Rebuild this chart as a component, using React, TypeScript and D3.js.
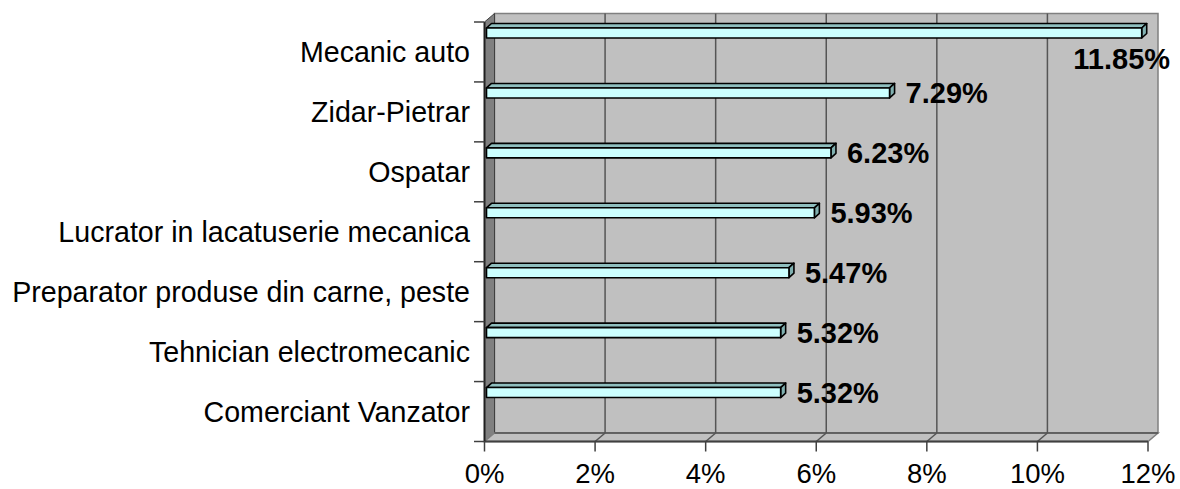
import React from "react";
import * as d3 from "d3";

const categories = [
  "Mecanic auto",
  "Zidar-Pietrar",
  "Ospatar",
  "Lucrator in lacatuserie mecanica",
  "Preparator produse din carne, peste",
  "Tehnician electromecanic",
  "Comerciant Vanzator",
];
const values = [11.85, 7.29, 6.23, 5.93, 5.47, 5.32, 5.32];
const valueTicks = [0, 2, 4, 6, 8, 10, 12];

const W = 1180;
const H = 489;
const font = "'Liberation Sans', Arial, sans-serif";

export default function App() {
  // front plane of the 3d box
  const x = d3.scaleLinear().domain([0, 12]).range([484.5, 1148]);
  const y = d3.scaleBand().domain(categories).range([22, 441.5]).padding(0);
  const dx = 10; // wall depth
  const dy = -8.5;
  const top = 22;
  const bottom = 441.5;

  // bars sit a little inside the depth
  const bdx = 5;
  const bdy = -4.5;
  const barOff = 2;
  const barH = 10;

  const pts = (p: number[][]) => p.map((d) => d.join(",")).join(" ");

  return (
    <svg width={W} height={H} style={{ position: "absolute", left: 0, top: 0 }} fontFamily={font}>
      {/* back wall */}
      <rect x={x(0) + dx} y={top + dy} width={x(12) - x(0)} height={bottom - top}
        fill="#c0c0c0" stroke="#808080" strokeWidth={1.5} />
      {/* left wall */}
      <polygon points={pts([[x(0), top], [x(0) + dx, top + dy], [x(0) + dx, bottom + dy], [x(0), bottom]])}
        fill="#808080" stroke="#404040" strokeWidth={1} />
      {/* floor */}
      <polygon points={pts([[x(0), bottom], [x(0) + dx, bottom + dy], [x(12) + dx, bottom + dy], [x(12), bottom]])}
        fill="#c0c0c0" stroke="#808080" strokeWidth={1.5} />
      {/* gridlines on wall and floor */}
      {valueTicks.slice(1, -1).map((t) => (
        <g key={"g" + t} stroke="#555" strokeWidth={1.5}>
          <line x1={x(t) + dx} x2={x(t) + dx} y1={top + dy} y2={bottom + dy} />
          <line x1={x(t) + dx} x2={x(t)} y1={bottom + dy} y2={bottom} />
        </g>
      ))}
      <line x1={x(0) + dx} x2={x(12) + dx} y1={bottom + dy} y2={bottom + dy} stroke="#555" strokeWidth={1.5} />
      {/* axes lines */}
      <line x1={x(0)} x2={x(12)} y1={bottom} y2={bottom} stroke="#404040" strokeWidth={2} />
      <line x1={x(0)} x2={x(0)} y1={top} y2={bottom} stroke="#202020" strokeWidth={2} />
      {/* value ticks + labels */}
      {valueTicks.map((t) => (
        <g key={"t" + t}>
          <line x1={x(t)} x2={x(t)} y1={bottom} y2={bottom + 10} stroke="#404040" strokeWidth={1.5} />
          <text x={x(t)} y={483} textAnchor="middle" fontSize={27.5} fill="#000">{t}%</text>
        </g>
      ))}
      {/* category ticks + labels */}
      {[...categories.map((c) => y(c) as number), bottom].map((v, i) => (
        <line key={"c" + i} x1={474} x2={x(0)} y1={v} y2={v} stroke="#404040" strokeWidth={1.5} />
      ))}
      {categories.map((c) => (
        <text key={"l" + c} x={470} y={(y(c) as number) + y.bandwidth() / 2} dy="0.35em"
          textAnchor="end" fontSize={28.6} fill="#000">{c}</text>
      ))}
      {/* bars */}
      {categories.map((c, i) => {
        const x0 = x(0) + barOff;
        const x1 = x(values[i]) + barOff;
        const y0 = (y(c) as number) + 6;
        const y1 = y0 + barH;
        return (
          <g key={"b" + c} stroke="#000" strokeWidth={1.6} strokeLinejoin="round">
            <polygon points={pts([[x0, y0], [x1, y0], [x1 + bdx, y0 + bdy], [x0 + bdx, y0 + bdy]])} fill="#8fbfbf" />
            <polygon points={pts([[x1, y0], [x1 + bdx, y0 + bdy], [x1 + bdx, y1 + bdy], [x1, y1]])} fill="#80b0b0" />
            <rect x={x0} y={y0} width={x1 - x0} height={barH} fill="#ccffff" />
          </g>
        );
      })}
      {/* data labels */}
      {categories.map((c, i) => {
        const x1 = x(values[i]) + barOff;
        const cy = (y(c) as number) + 6 + barH / 2;
        const overflow = x1 + 16 + 90 > W;
        return (
          <text key={"d" + c} x={overflow ? x1 - 20 : x1 + 16} y={overflow ? cy + 26 : cy} dy="0.35em"
            textAnchor={overflow ? "middle" : "start"} fontSize={29} fontWeight="bold" fill="#000">
            {values[i].toFixed(2)}%
          </text>
        );
      })}
    </svg>
  );
}
